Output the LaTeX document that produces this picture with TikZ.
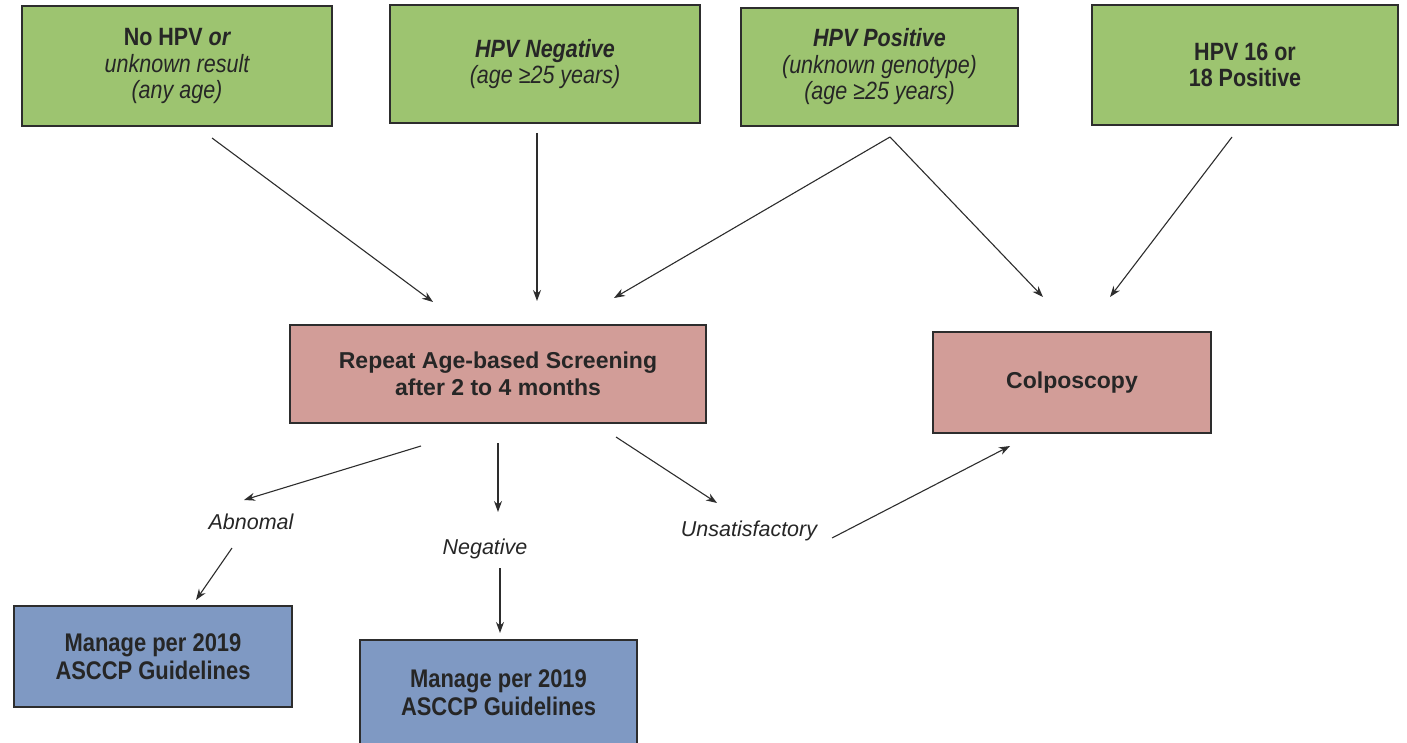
\documentclass[tikz,border=0pt]{standalone}
\usepackage{fontspec}
\setmainfont{Liberation Sans}
\newfontfamily\narrowsans{Liberation Sans}[FakeStretch=0.86]
\usetikzlibrary{arrows.meta}
\definecolor{boxgreen}{RGB}{157,196,112}
\definecolor{boxred}{RGB}{210,157,152}
\definecolor{boxblue}{RGB}{127,153,195}
\definecolor{txt}{RGB}{38,38,38}
\definecolor{edge}{RGB}{45,45,45}
\tikzset{
  box/.style={draw=edge, line width=1.6pt, align=center, text=txt, inner sep=0pt},
  greenbox/.style={box, fill=boxgreen, font=\narrowsans\fontsize{25}{26.5}\selectfont},
  redbox/.style={box, fill=boxred, font=\fontsize{23}{27}\selectfont\bfseries},
  bluebox/.style={box, fill=boxblue, font=\narrowsans\fontsize{25.5}{28}\selectfont\bfseries},
  lbl/.style={text=txt, font=\fontsize{21.5}{25}\selectfont\itshape, inner sep=0pt},
  arr/.style={draw=edge, line width=1.1pt, -{Stealth[length=11pt,width=8pt]}}
}
\begin{document}
\begin{tikzpicture}[x=1pt,y=-1pt]
\useasboundingbox (0,0) rectangle (1407,743);
% top boxes
\node[greenbox, minimum width=310pt, minimum height=120pt] (b1) at (177,66)
  {{\bfseries No HPV} {\bfseries\itshape or}\\ \itshape unknown result\\ \itshape (any age)};
\node[greenbox, minimum width=310pt, minimum height=118pt] (b2) at (545,64)
  {{\bfseries\itshape HPV Negative}\\ \itshape (age ≥25 years)};
\node[greenbox, minimum width=277pt, minimum height=118pt] (b3) at (879.5,67)
  {{\bfseries\itshape HPV Positive}\\ \itshape (unknown genotype)\\ \itshape (age ≥25 years)};
\node[greenbox, minimum width=306pt, minimum height=120pt, font=\narrowsans\fontsize{25}{26.5}\selectfont\bfseries] (b4) at (1245,65)
  {HPV 16 or\\ 18 Positive};
% middle boxes
\node[redbox, minimum width=416pt, minimum height=98pt] (rep) at (498,374)
  {Repeat Age-based Screening\\ after 2 to 4 months};
\node[redbox, minimum width=278pt, minimum height=101pt] (col) at (1072,382.5)
  {Colposcopy};
% labels
\node[lbl] (abn) at (251,522) {Abnomal};
\node[lbl] (neg) at (485,549) {Negative};
\node[lbl] (uns) at (749,531) {Unsatisfactory};
% bottom boxes
\node[bluebox, minimum width=278pt, minimum height=101pt] (m1) at (153,656.5)
  {Manage per 2019\\ ASCCP Guidelines};
\node[bluebox, minimum width=277pt, minimum height=106pt] (m2) at (498.5,693)
  {Manage per 2019\\ ASCCP Guidelines};
% arrow end points
\coordinate (b1o) at (212,138);
\coordinate (b2o) at (537,133);
\coordinate (b3o) at (890,137);
\coordinate (b4o) at (1232,137);
\coordinate (repA) at (433,302);
\coordinate (repB) at (537,301);
\coordinate (repC) at (614,298);
\coordinate (colA) at (1043,297);
\coordinate (colB) at (1110,297);
\coordinate (repo1) at (421,446);
\coordinate (repo2) at (498,443);
\coordinate (repo3) at (616,437);
\coordinate (abnin) at (244,500);
\coordinate (negin) at (498,512);
\coordinate (unsin) at (717,503);
\coordinate (abno) at (232,548);
\coordinate (nego) at (500,568);
\coordinate (unso) at (832,538);
\coordinate (m1in) at (196,600);
\coordinate (m2in) at (500,633);
\coordinate (colin) at (1010,446);
% connectors
\draw[arr] (b1o) -- (repA);
\draw[arr] (b2o) -- (repB);
\draw[arr] (b3o) -- (repC);
\draw[arr] (b3o) -- (colA);
\draw[arr] (b4o) -- (colB);
\draw[arr] (repo1) -- (abnin);
\draw[arr] (repo2) -- (negin);
\draw[arr] (repo3) -- (unsin);
\draw[arr] (abno) -- (m1in);
\draw[arr] (nego) -- (m2in);
\draw[arr] (unso) -- (colin);
\end{tikzpicture}
\end{document}
